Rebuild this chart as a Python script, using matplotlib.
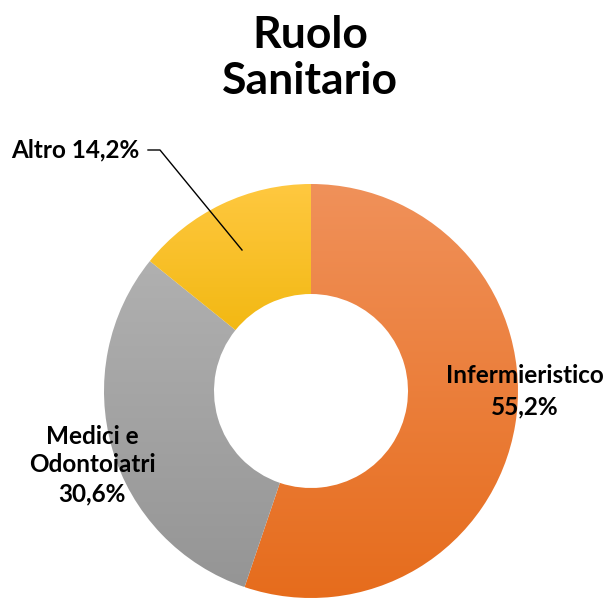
import numpy as np
import matplotlib.pyplot as plt
from matplotlib.colors import to_rgb

plt.rcParams['font.family'] = ['Lato', 'DejaVu Sans']

title = 'Ruolo\nSanitario'
labels = ['Infermieristico', 'Medici e\nOdontoiatri', 'Altro']
values = [55.2, 30.6, 14.2]
top_cols = ['#F0915A', '#B0B0B0', '#FFC840']
bot_cols = ['#E66C1C', '#959595', '#EDB200']

W, H = 609, 605
fig = plt.figure(figsize=(6.09, 6.05), dpi=100)
ax = fig.add_axes([0, 0, 1, 1])

cx, cy = 311, H - 391
wedges, _ = ax.pie(values, radius=207, center=(cx, cy), startangle=90,
                   counterclock=False,
                   wedgeprops=dict(width=110, edgecolor='none'))

# vertical gradient fill in each slice
for w, c1, c2 in zip(wedges, top_cols, bot_cols):
    v = w.get_path().vertices
    x0, x1 = v[:, 0].min(), v[:, 0].max()
    y0, y1 = v[:, 1].min(), v[:, 1].max()
    t = np.linspace(0, 1, 256)[:, None]
    grad = (1 - t) * np.array(to_rgb(c1)) + t * np.array(to_rgb(c2))
    img = ax.imshow(grad[:, None, :], extent=(x0, x1, y0, y1), origin='upper',
                    aspect='auto', zorder=w.get_zorder(), interpolation='bilinear')
    img.set_clip_path(w)
    w.set_facecolor('none')


def pct(v):
    return f'{v:.1f}'.replace('.', ',') + '%'


ax.text(310, H - 58, title, ha='center', va='center', fontsize=32,
        fontweight='bold', linespacing=1.2)

ax.text(525, H - 391, labels[0] + '\n' + pct(values[0]), ha='center',
        va='center', fontsize=17.5, fontweight='bold', linespacing=1.42)
ax.text(92, H - 465, labels[1] + '\n' + pct(values[1]), ha='center',
        va='center', fontsize=17.5, fontweight='bold', linespacing=1.3)
ax.text(139, H - 150, labels[2] + ' ' + pct(values[2]), ha='right',
        va='center', fontsize=17.5, fontweight='bold')
ax.plot([148, 160, 242], [H - 150, H - 150, H - 250], color='black', lw=1)

ax.set_xlim(0, W)
ax.set_ylim(0, H)
ax.axis('off')
fig.savefig('out.png', dpi=100)
